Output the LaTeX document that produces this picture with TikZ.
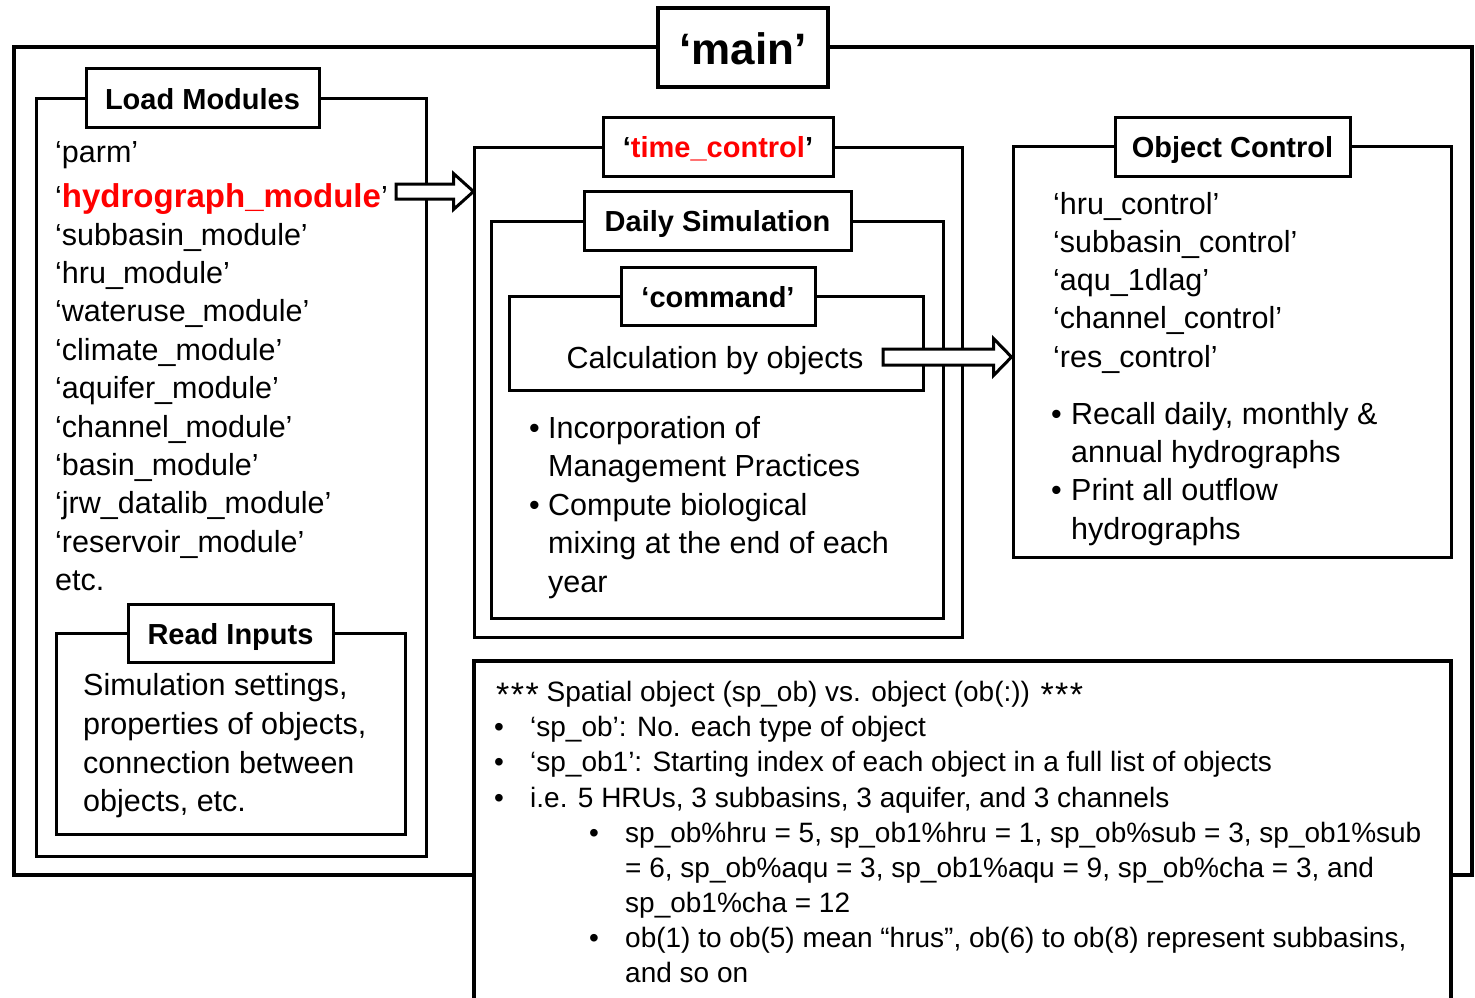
\documentclass[tikz,border=0pt]{standalone}
\usepackage{fontspec}
\setmainfont{Liberation Sans}
\usetikzlibrary{calc}
\definecolor{hred}{RGB}{255,0,0}
\newcommand{\stars}{\raisebox{-5pt}{\fontsize{34}{34}\selectfont *\kern1.5pt*\kern1.5pt*}}
\begin{document}
\begin{tikzpicture}[x=1pt,y=-1pt,
  frame/.style={draw, line width=3pt, fill=white, inner sep=0pt, line join=miter},
  tbox/.style={draw, line width=3pt, fill=white, inner sep=0pt, text height=22pt, text depth=0pt, font=\fontsize{29}{34}\selectfont\bfseries},
  body/.style={anchor=base west, inner sep=0pt, font=\fontsize{30.5}{38}\selectfont},
  small/.style={anchor=base west, inner sep=0pt, font=\fontsize{28}{35}\selectfont},
  barrow/.style={draw, line width=3pt, fill=white, line join=miter}]
\clip (0,0) rectangle (1475,998);
\fill[white] (0,0) rectangle (1475,998);

% outer main frame
\node[frame, line width=4pt, minimum width=1458pt, minimum height=828pt] (outer) at (743,461) {};
\node[tbox, line width=4pt, minimum width=170pt, minimum height=79pt, text height=35pt, font=\fontsize{44}{50}\selectfont\bfseries] (main) at (743,47.5) {‘main’};

% Load Modules
\node[frame, minimum width=390pt, minimum height=758pt] (lmf) at (231,477) {};
\node[tbox, minimum width=233pt, minimum height=58pt] (lmt) at (202.5,98) {Load Modules};
\node[body] (lm1) at (55,162) {‘parm’};
\node[body] (lm2) at (55,207) {‘{\color{hred}\bfseries\fontsize{33}{38}\selectfont hydrograph\_module}’};
\foreach \t [count=\i from 0] in {subbasin\_module,hru\_module,wateruse\_module,climate\_module,aquifer\_module,channel\_module,basin\_module,jrw\_datalib\_module,reservoir\_module}
  \node[body] (lmx\i) at (55,{245+38.4*\i}) {‘\t’};
\node[body] (lmetc) at (55,590.6) {etc.};

% Read Inputs
\node[frame, minimum width=349pt, minimum height=201pt] (rif) at (230.5,733.5) {};
\node[tbox, minimum width=205pt, minimum height=58pt] (rit) at (230.5,633) {Read Inputs};
\node[body] (ri1) at (83,695) {Simulation settings,};
\node[body] (ri2) at (83,734) {properties of objects,};
\node[body] (ri3) at (83,773) {connection between};
\node[body] (ri4) at (83,811) {objects, etc.};

% time_control
\node[frame, minimum width=488pt, minimum height=490pt] (tcf) at (718,392) {};
\node[tbox, minimum width=230pt, minimum height=59pt] (tct) at (718,146.5) {‘{\color{hred}time\_control}’};
\node[frame, minimum width=452pt, minimum height=397pt] (dsf) at (717,419.5) {};
\node[tbox, minimum width=267pt, minimum height=59pt] (dst) at (717.5,220.5) {Daily Simulation};
\node[frame, minimum width=414pt, minimum height=94pt] (cmf) at (716,343) {};
\node[tbox, minimum width=194pt, minimum height=58pt] (cmt) at (718,296) {‘command’};
\node[body, anchor=base] (calc) at (715,368) {Calculation by objects};
\node[body] (db1) at (529,438) {•};
\node[body] (d1) at (548,438) {Incorporation of};
\node[body] (d2) at (548,476.5) {Management Practices};
\node[body] (db2) at (529,515) {•};
\node[body] (d3) at (548,515) {Compute biological};
\node[body] (d4) at (548,553.5) {mixing at the end of each};
\node[body] (d5) at (548,592) {year};

% Object Control
\node[frame, minimum width=438pt, minimum height=411pt] (ocf) at (1232,351.5) {};
\node[tbox, minimum width=235pt, minimum height=59pt] (oct) at (1232.5,146.5) {Object Control};
\foreach \t [count=\i from 0] in {hru\_control,subbasin\_control,aqu\_1dlag,channel\_control,res\_control}
  \node[body] (oc\i) at (1053,{214+38.3*\i}) {‘\t’};
\node[body] (ob1) at (1051,424) {•};
\node[body] (o1) at (1071,424) {Recall daily, monthly \&};
\node[body] (o2) at (1071,462) {annual hydrographs};
\node[body] (ob2) at (1051,500) {•};
\node[body] (o3) at (1071,500) {Print all outflow};
\node[body] (o4) at (1071,539) {hydrographs};

% block arrows
\coordinate (a1s) at (396,191.5);
\coordinate (a1t) at (tcf.west |- a1s);
\draw[barrow] ($(a1s)+(0,-7.5)$) -- ($(a1t)+(-19,-7.5)$) -- ($(a1t)+(-19,-18)$) -- ($(a1t)+(1,0)$)
  -- ($(a1t)+(-19,18)$) -- ($(a1t)+(-19,7.5)$) -- ($(a1s)+(0,7.5)$) -- cycle;
\coordinate (a2s) at (883,357);
\coordinate (a2t) at (ocf.west |- a2s);
\draw[barrow] ($(a2s)+(0,-8)$) -- ($(a2t)+(-18,-8)$) -- ($(a2t)+(-18,-18.5)$) -- ($(a2t)+(0,0)$)
  -- ($(a2t)+(-18,18.5)$) -- ($(a2t)+(-18,8)$) -- ($(a2s)+(0,8)$) -- cycle;

% Spatial object box
\node[frame, line width=4pt, minimum width=977pt, minimum height=360pt] (spf) at (962.5,841) {};
\node[small] (s0) at (496,701) {\stars{} Spatial object (sp\_ob) vs. object (ob(:)) \stars};
\node[small] (sb1) at (494,736) {•};
\node[small] (s1) at (530,736) {‘sp\_ob’: No. each type of object};
\node[small] (sb2) at (494,771.5) {•};
\node[small] (s2) at (530,771.5) {‘sp\_ob1’: Starting index of each object in a full list of objects};
\node[small] (sb3) at (494,807) {•};
\node[small] (s3) at (530,807) {i.e. 5 HRUs, 3 subbasins, 3 aquifer, and 3 channels};
\node[small] (sb4) at (589,842) {•};
\node[small] (s4) at (625,842) {sp\_ob\%hru = 5, sp\_ob1\%hru = 1, sp\_ob\%sub = 3, sp\_ob1\%sub};
\node[small] (s5) at (625,877) {= 6, sp\_ob\%aqu = 3, sp\_ob1\%aqu = 9, sp\_ob\%cha = 3, and};
\node[small] (s6) at (625,912) {sp\_ob1\%cha = 12};
\node[small] (sb5) at (589,947) {•};
\node[small] (s7) at (625,947) {ob(1) to ob(5) mean “hrus”, ob(6) to ob(8) represent subbasins,};
\node[small] (s8) at (625,982) {and so on};
\end{tikzpicture}
\end{document}
